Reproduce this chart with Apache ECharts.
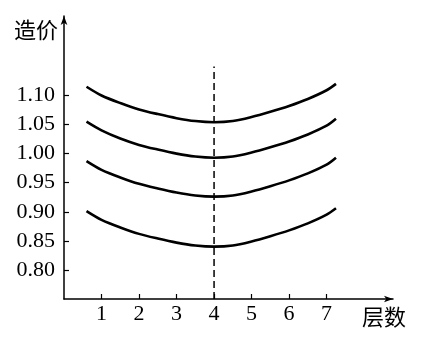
<!DOCTYPE html>
<html>
<head>
<meta charset="utf-8">
<script src="https://cdn.jsdelivr.net/npm/echarts@6/dist/echarts.min.js"></script>
<style>html,body{margin:0;padding:0;background:#fff}#c{width:425px;height:344px}</style>
</head>
<body>
<div id="c"></div>
<script>
// Data
const xValues = [0.6, 1, 1.5, 2, 2.5, 3, 3.5, 4, 4.5, 5, 5.5, 6, 6.5, 7, 7.25];
const curve1 = [1.115, 1.100, 1.087, 1.076, 1.068, 1.061, 1.056, 1.054, 1.056, 1.063, 1.072, 1.082, 1.094, 1.109, 1.120];
const curve2 = [1.055, 1.040, 1.026, 1.015, 1.007, 1.000, 0.995, 0.993, 0.995, 1.002, 1.011, 1.021, 1.033, 1.048, 1.060];
const curve3 = [0.987, 0.972, 0.959, 0.948, 0.940, 0.933, 0.928, 0.926, 0.928, 0.935, 0.944, 0.954, 0.966, 0.981, 0.993];
const curve4 = [0.901, 0.886, 0.873, 0.862, 0.854, 0.847, 0.842, 0.840, 0.842, 0.849, 0.858, 0.868, 0.880, 0.895, 0.906];
const dashX = [4, 4];
const dashY = [0.75, 1.15];
const xTicks = [1, 2, 3, 4, 5, 6, 7];
const yTicks = [0.80, 0.85, 0.90, 0.95, 1.00, 1.05, 1.10];
const yName = '造价';
const xName = '层数';

const font = '"Liberation Serif", "Noto Sans CJK SC", serif';
const toPairs = (xs, ys) => xs.map((x, i) => [x, ys[i]]);
const curveSeries = [curve1, curve2, curve3, curve4].map(c => ({
  type: 'line', data: toPairs(xValues, c), smooth: 0.3, showSymbol: false,
  lineStyle: { color: '#000', width: 2.6 }, silent: true
}));

const chart = echarts.init(document.getElementById('c'), null, { renderer: 'canvas' });
chart.setOption({
  animation: false,
  backgroundColor: '#fff',
  grid: { left: 64, right: 32, top: 16, bottom: 45 },
  xAxis: {
    type: 'value', min: 0, max: 8.77,
    name: xName, nameLocation: 'end', nameGap: -31,
    nameTextStyle: { color: '#000', fontSize: 22, fontFamily: font, align: 'left', verticalAlign: 'top', padding: [9, 0, 0, 0] },
    axisLine: { show: true, lineStyle: { color: '#000', width: 1.5 }, symbol: ['none', 'arrow'], symbolSize: [5, 9] },
    axisTick: { show: true, inside: true, length: 5, lineStyle: { color: '#000', width: 1.2 }, customValues: xTicks },
    axisLabel: { color: '#000', fontSize: 22, fontFamily: font, margin: 4, customValues: xTicks, formatter: v => String(v) },
    splitLine: { show: false }
  },
  yAxis: {
    type: 'value', min: 0.75, max: 1.2367,
    name: yName, nameLocation: 'end', nameGap: -16,
    nameTextStyle: { color: '#000', fontSize: 22, fontFamily: font, align: 'right', verticalAlign: 'middle', padding: [0, 6, 0, 0] },
    axisLine: { show: true, lineStyle: { color: '#000', width: 1.5 }, symbol: ['none', 'arrow'], symbolSize: [5, 9] },
    axisTick: { show: true, inside: true, length: 5, lineStyle: { color: '#000', width: 1.2 }, customValues: yTicks },
    axisLabel: { color: '#000', fontSize: 22, fontFamily: font, margin: 9, customValues: yTicks, formatter: v => v.toFixed(2) },
    splitLine: { show: false }
  },
  series: curveSeries.concat([{
    type: 'line', data: toPairs(dashX, dashY), showSymbol: false, silent: true,
    lineStyle: { color: '#000', width: 1.5, type: [7, 4] }
  }])
});
</script>
</body>
</html>
